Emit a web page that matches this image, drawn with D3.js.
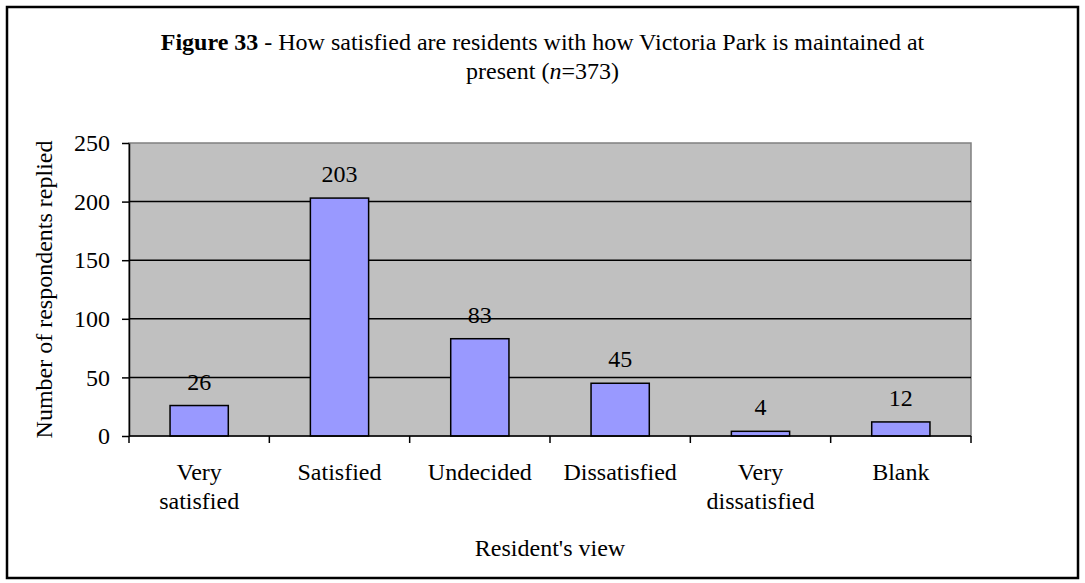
<!DOCTYPE html>
<html>
<head>
<meta charset="utf-8">
<script src="https://cdn.jsdelivr.net/npm/d3@7"></script>
<style>
  html, body { margin: 0; padding: 0; background: #ffffff; }
  svg { display: block; }
  svg text { font-family: "Liberation Serif", "Times New Roman", Times, serif; fill: #000; font-variant-ligatures: none; }
</style>
</head>
<body>
<svg id="chart" width="1085" height="583"></svg>
<script>
// Survey responses: satisfaction with park maintenance
const categories = [["Very", "satisfied"], ["Satisfied"], ["Undecided"], ["Dissatisfied"], ["Very", "dissatisfied"], ["Blank"]];
const counts = [26, 203, 83, 45, 4, 12];
const yTicks = [0, 50, 100, 150, 200, 250];

const SERIF = "Liberation Serif";
const svg = d3.select("#chart");
const W = 1085, H = 583;
const plot = { left: 129, right: 971, top: 143, bottom: 436 };
const fontSize = 24;

// outer frame
svg.append("rect")
  .attr("x", 7).attr("y", 7)
  .attr("width", 1071).attr("height", 571)
  .attr("fill", "#fff").attr("stroke", "#000").attr("stroke-width", 2.5);

// title
const title = svg.append("text")
  .attr("text-anchor", "middle")
  .attr("font-family", SERIF)
  .attr("font-size", fontSize);
const t1 = title.append("tspan").attr("x", W / 2).attr("y", 50);
t1.append("tspan").attr("font-weight", "bold").text("Figure 33");
t1.append("tspan").text(" - How satisfied are residents with how Victoria Park is maintained at");
const t2 = title.append("tspan").attr("x", W / 2).attr("y", 79);
t2.append("tspan").text("present (");
t2.append("tspan").attr("font-style", "italic").text("n");
t2.append("tspan").text("=373)");

const x = d3.scaleBand()
  .domain(d3.range(categories.length))
  .range([plot.left, plot.right])
  .paddingInner(0.585)
  .paddingOuter(0.2925);

const y = d3.scaleLinear()
  .domain([0, 250])
  .range([plot.bottom, plot.top]);

// plot background
svg.append("rect")
  .attr("x", plot.left).attr("y", plot.top)
  .attr("width", plot.right - plot.left).attr("height", plot.bottom - plot.top)
  .attr("fill", "#c0c0c0")
  .attr("stroke", "#808080").attr("stroke-width", 1.5);

// gridlines
svg.append("g")
  .selectAll("line")
  .data(yTicks.filter(d => d > 0 && d < 250))
  .join("line")
  .attr("x1", plot.left).attr("x2", plot.right)
  .attr("y1", d => y(d)).attr("y2", d => y(d))
  .attr("stroke", "#000").attr("stroke-width", 1.5);

// bars
svg.append("g")
  .selectAll("rect")
  .data(counts)
  .join("rect")
  .attr("x", (d, i) => x(i))
  .attr("y", d => y(d))
  .attr("width", x.bandwidth())
  .attr("height", d => y(0) - y(d))
  .attr("fill", "#9999ff")
  .attr("stroke", "#000").attr("stroke-width", 1.5);

// value labels
svg.append("g")
  .selectAll("text")
  .data(counts)
  .join("text")
  .attr("x", (d, i) => x(i) + x.bandwidth() / 2)
  .attr("y", d => y(d) - 16)
  .attr("text-anchor", "middle")
  .attr("font-family", SERIF)
  .attr("font-size", fontSize)
  .text(d => d);

// y axis
const yAxis = svg.append("g")
  .attr("transform", `translate(${plot.left},0)`)
  .call(d3.axisLeft(y).tickValues(yTicks).tickSize(7).tickPadding(12).tickSizeOuter(0));
yAxis.attr("font-family", SERIF);
yAxis.select(".domain").attr("stroke", "#000").attr("stroke-width", 1.5);
yAxis.selectAll(".tick line").attr("stroke", "#000").attr("stroke-width", 1.5);
yAxis.selectAll(".tick text")
  .attr("font-size", fontSize)
  .attr("font-family", SERIF)
  .attr("fill", "#000");

// x axis: ticks at category boundaries
const xg = svg.append("g");
xg.append("line")
  .attr("x1", plot.left).attr("x2", plot.right)
  .attr("y1", plot.bottom).attr("y2", plot.bottom)
  .attr("stroke", "#000").attr("stroke-width", 1.5);
const step = x.step();
xg.selectAll("line.tick")
  .data(d3.range(categories.length + 1))
  .join("line")
  .attr("class", "tick")
  .attr("x1", i => plot.left + i * step).attr("x2", i => plot.left + i * step)
  .attr("y1", plot.bottom).attr("y2", plot.bottom + 7)
  .attr("stroke", "#000").attr("stroke-width", 1.5);

const catText = xg.selectAll("text.cat")
  .data(categories)
  .join("text")
  .attr("class", "cat")
  .attr("text-anchor", "middle")
  .attr("font-family", SERIF)
  .attr("font-size", fontSize);
catText.selectAll("tspan")
  .data((d, i) => d.map(line => ({ line, i })))
  .join("tspan")
  .attr("x", d => x(d.i) + x.bandwidth() / 2)
  .attr("y", (d, j) => 480 + j * 29)
  .text(d => d.line);

// axis titles
svg.append("text")
  .attr("x", (plot.left + plot.right) / 2)
  .attr("y", 556)
  .attr("text-anchor", "middle")
  .attr("font-family", SERIF)
  .attr("font-size", fontSize)
  .text("Resident's view");

svg.append("text")
  .attr("transform", `translate(52,${(plot.top + plot.bottom) / 2}) rotate(-90)`)
  .attr("text-anchor", "middle")
  .attr("font-family", SERIF)
  .attr("font-size", fontSize)
  .text("Number of respondents replied");
</script>
</body>
</html>
